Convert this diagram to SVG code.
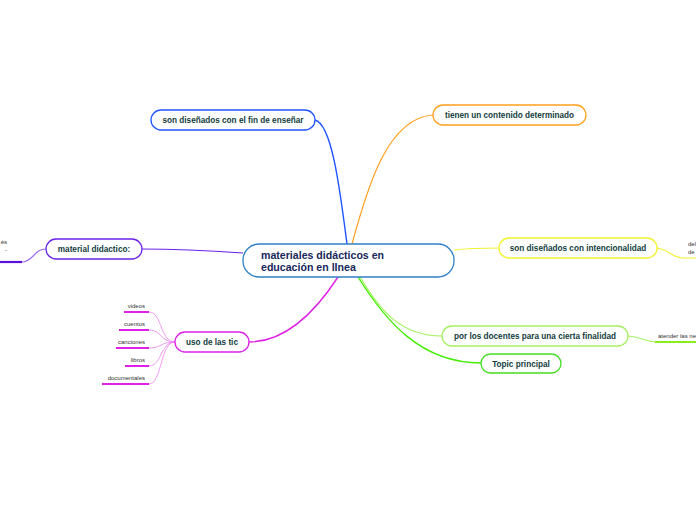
<svg xmlns="http://www.w3.org/2000/svg" width="696" height="520" viewBox="0 0 696 520">
<style>
.n{fill:#fff;stroke-width:1.3}
.t{font-family:"Liberation Sans",Arial,sans-serif;font-weight:bold;font-size:8.2px;fill:#123c3c;text-anchor:middle}
.c{font-family:"Liberation Sans",Arial,sans-serif;font-weight:bold;font-size:10.6px;fill:#17285a}
.l{font-family:"Liberation Sans",Arial,sans-serif;font-size:6px;fill:#333}
.lr{text-anchor:end}
#connectors path{fill:none}
</style>
<rect width="696" height="520" fill="#fff"/>
<g id="connectors">
<path d="M315,120 C332,124 340,190 347,244" stroke="#1f55ff" stroke-width="1.4"/>
<path d="M352,244 C368,185 388,118 433,115" stroke="#ff9f1c" stroke-width="1.2"/>
<path d="M454,250 C470,248 480,248 499,248" stroke="#f2f230" stroke-width="1.2"/>
<path d="M657,248 C670,250 672,258 684,258 L696,258" stroke="#f2f230" stroke-width="1.2"/>
<path d="M360,277 C380,310 400,336 442,336" stroke="#a4f060" stroke-width="1.2"/>
<path d="M628,336 C642,337 645,342 657,342" stroke="#a4f060" stroke-width="1.2"/>
<path d="M655,342 L696,342" stroke="#88ee22" stroke-width="2.2"/>
<path d="M358,277 C385,320 420,363 481,363" stroke="#44ee00" stroke-width="1.4"/>
<path d="M243,253 C200,250 170,249 142,249" stroke="#6a22e8" stroke-width="1.2"/>
<path d="M46,249 C34,249 33,262 22,262" stroke="#a070f0" stroke-width="1.2"/>
<path d="M0,262 L22,262" stroke="#5a10d8" stroke-width="2.2"/>
<path d="M338,277 C310,320 280,342 249,342" stroke="#e020e8" stroke-width="1.4"/>
<path d="M175,342 C160,342 162,312 149,312" stroke="#f080f0" stroke-width="0.8"/>
<path d="M175,342 C160,342 162,330 149,330" stroke="#f080f0" stroke-width="0.8"/>
<path d="M175,342 C160,342 162,348 149,348" stroke="#f080f0" stroke-width="0.8"/>
<path d="M175,342 C160,342 162,366 149,366" stroke="#f080f0" stroke-width="0.8"/>
<path d="M175,342 C160,342 162,384 149,384" stroke="#f080f0" stroke-width="0.8"/>
<path d="M124,312 L149,312 M119,330 L149,330 M116,348 L149,348 M125,366 L149,366 M102,384 L149,384" stroke="#e020e8" stroke-width="2"/>
</g>
<g id="central">
<rect x="243" y="244" width="211" height="33" rx="16" class="n" stroke="#2f80c8"/>
<text class="c" x="261" y="259">materiales didácticos en</text>
<text class="c" x="261" y="271">educación en lInea</text>
</g>
<g id="n-fin">
<rect x="151" y="110" width="164" height="20" rx="10" class="n" stroke="#1f55ff"/>
<text class="t" x="233" y="123">son diseñados con el fin de enseñar</text>
</g>
<g id="n-contenido">
<rect x="433" y="105" width="153" height="20" rx="10" class="n" stroke="#ff9f1c"/>
<text class="t" x="509.5" y="118">tienen un contenido determinado</text>
</g>
<g id="n-intencionalidad">
<rect x="499" y="238" width="158" height="20" rx="10" class="n" stroke="#f2f230"/>
<text class="t" x="578" y="251">son diseñados con intencionalidad</text>
<text class="l" x="688" y="246">del</text>
<text class="l" x="688" y="254">de</text>
</g>
<g id="n-docentes">
<rect x="442" y="326" width="186" height="20" rx="10" class="n" stroke="#a4f060"/>
<text class="t" x="535" y="339">por los docentes para una cierta finalidad</text>
<text class="l" x="658" y="338">atender las ne</text>
</g>
<g id="n-topic">
<rect x="481" y="354" width="80" height="19" rx="9.5" class="n" stroke="#44dd22"/>
<text class="t" x="521" y="366.5">Topic principal</text>
</g>
<g id="n-material">
<rect x="46" y="239" width="96" height="20" rx="10" class="n" stroke="#6a22e8"/>
<text class="t" x="94" y="252">material didactico:</text>
<text class="l" x="7" y="244" text-anchor="end">és</text>
<text class="l" x="7" y="252" text-anchor="end">-</text>
</g>
<g id="n-tic">
<rect x="175" y="332" width="74" height="20" rx="10" class="n" stroke="#e020e8"/>
<text class="t" x="212" y="345">uso de las tic</text>
</g>
<g id="leaves">
<text class="l lr" x="145" y="308">videos</text>
<text class="l lr" x="145" y="326">cuentos</text>
<text class="l lr" x="145" y="344">canciones</text>
<text class="l lr" x="145" y="362">libros</text>
<text class="l lr" x="145" y="380">documentales</text>
</g>
</svg>
